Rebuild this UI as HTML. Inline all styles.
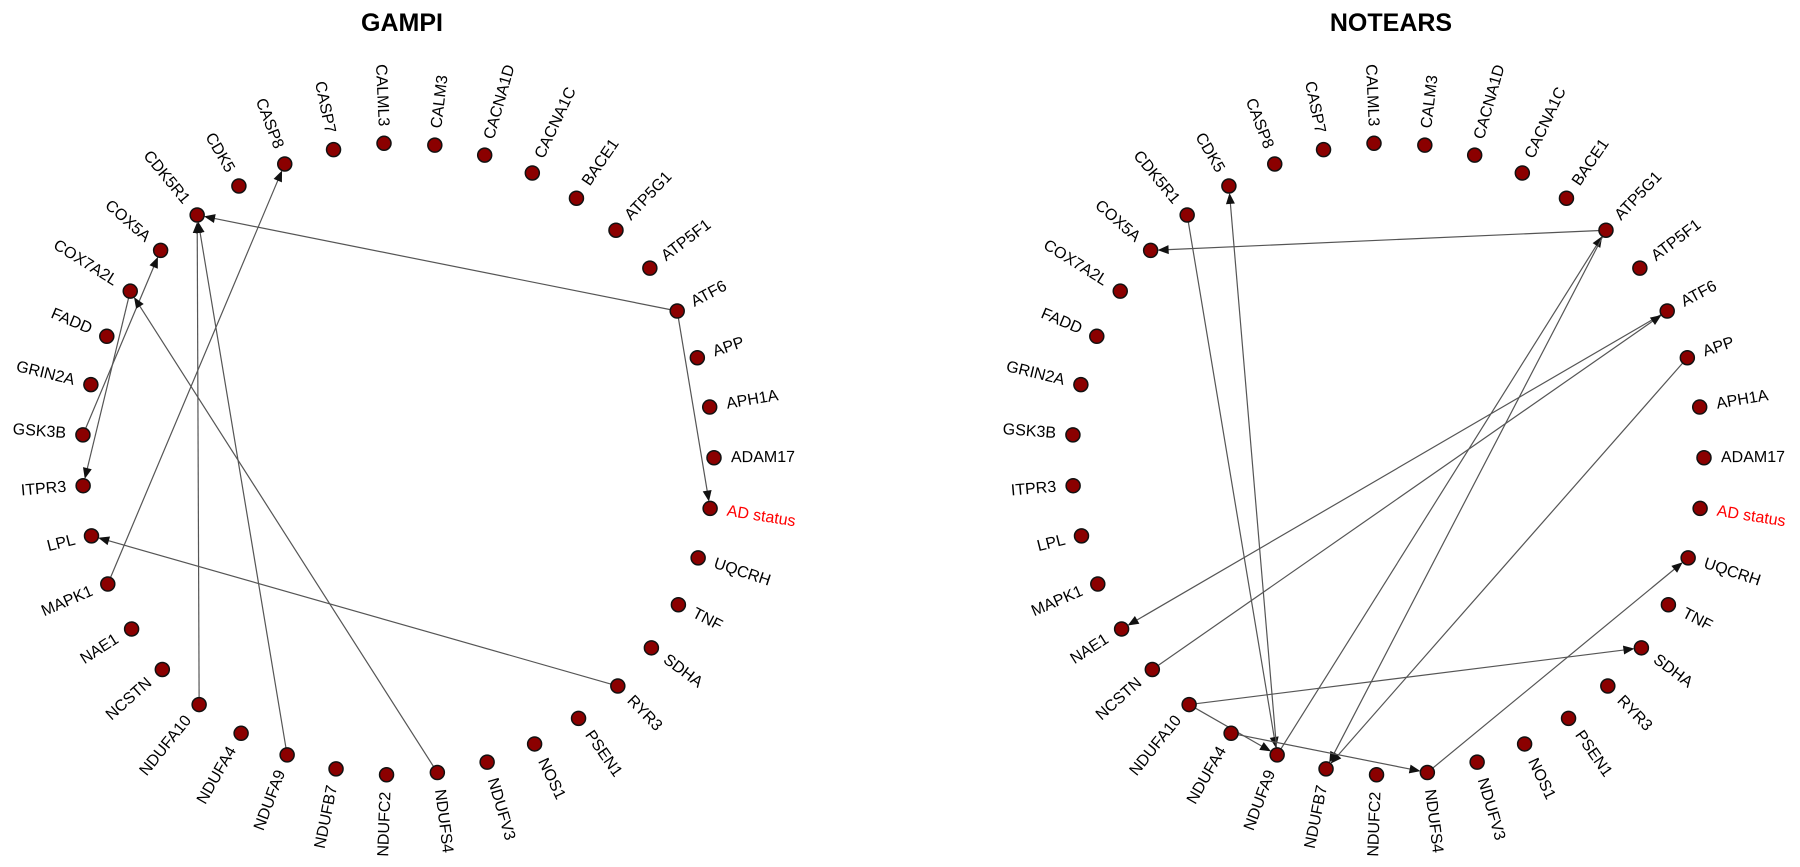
<!DOCTYPE html>
<html><head><meta charset="utf-8">
<style>
html,body{margin:0;padding:0;background:#fff;}
svg{display:block;font-family:"Liberation Sans",Arial,sans-serif;}
</style></head>
<body>
<svg id="chart" width="1800" height="867" viewBox="0 0 1800 867">
<text x="402" y="31" text-anchor="middle" font-size="25" font-weight="bold">GAMPI</text>
<text x="1391" y="31" text-anchor="middle" font-size="25" font-weight="bold">NOTEARS</text>
</svg>
<script>
const nodes = ["AD status","ADAM17","APH1A","APP","ATF6","ATP5F1","ATP5G1","BACE1","CACNA1C","CACNA1D","CALM3","CALML3","CASP7","CASP8","CDK5","CDK5R1","COX5A","COX7A2L","FADD","GRIN2A","GSK3B","ITPR3","LPL","MAPK1","NAE1","NCSTN","NDUFA10","NDUFA4","NDUFA9","NDUFB7","NDUFC2","NDUFS4","NDUFV3","NOS1","PSEN1","RYR3","SDHA","TNF","UQCRH"];
const gampiEdges = [["ATF6","CDK5R1"],["ATF6","AD status"],["NDUFA10","CDK5R1"],["NDUFA9","CDK5R1"],["MAPK1","CASP8"],["GSK3B","COX5A"],["COX7A2L","ITPR3"],["NDUFS4","COX7A2L"],["RYR3","LPL"]];
const notearsEdges = [["ATP5G1","COX5A"],["CDK5R1","NDUFA9"],["NDUFA9","CDK5"],["NDUFA9","ATP5G1"],["ATP5G1","NDUFB7"],["APP","NDUFB7"],["ATF6","NAE1"],["NCSTN","ATF6"],["NDUFA10","SDHA"],["NDUFA10","NDUFA9"],["NDUFA4","NDUFS4"],["NDUFS4","UQCRH"]];
const NS="http://www.w3.org/2000/svg";
const svg=document.getElementById('chart');
const R=316, CY=459, START=-9, NODE_R=7;
function angleOf(i){return (START+i*360/nodes.length)*Math.PI/180;}
function pos(cx,i){const a=angleOf(i);return [cx+R*Math.cos(a),CY-R*Math.sin(a)];}
function draw(cx,edges,prefix){
  const g=document.createElementNS(NS,'g');
  
  
  svg.appendChild(g);
  edges.forEach(e=>{
    const [x1,y1]=pos(cx,nodes.indexOf(e[0]));
    const [x2,y2]=pos(cx,nodes.indexOf(e[1]));
    const dx=x2-x1,dy=y2-y1,L=Math.hypot(dx,dy),ux=dx/L,uy=dy/L;
    const tx=x2-ux*NODE_R,ty=y2-uy*NODE_R;
    const line=document.createElementNS(NS,'line');
    
    
    line.setAttribute('x1',x1);line.setAttribute('y1',y1);
    line.setAttribute('x2',tx-ux*8);line.setAttribute('y2',ty-uy*8);
    line.setAttribute('stroke','#555');line.setAttribute('stroke-width','1.2');
    g.appendChild(line);
    const bx=tx-ux*11,by=ty-uy*11,px=-uy*4.5,py=ux*4.5;
    const arr=document.createElementNS(NS,'polygon');
    
    
    arr.setAttribute('points',`${tx},${ty} ${bx+px},${by+py} ${bx-px},${by-py}`);
    arr.setAttribute('fill','#111');
    g.appendChild(arr);
  });
  nodes.forEach((n,i)=>{
    const [x,y]=pos(cx,i);
    const c=document.createElementNS(NS,'circle');
    
    
    c.setAttribute('cx',x);c.setAttribute('cy',y);c.setAttribute('r',NODE_R);
    c.setAttribute('fill','#8b0000');c.setAttribute('stroke','#111');c.setAttribute('stroke-width','1.5');
    g.appendChild(c);
    const a=angleOf(i),deg=a*180/Math.PI;
    const lx=cx+(R+17)*Math.cos(a),ly=CY-(R+17)*Math.sin(a);
    const t=document.createElementNS(NS,'text');
    
    
    t.setAttribute('x',lx);t.setAttribute('y',ly);
    t.setAttribute('font-size','16');
    t.setAttribute('dominant-baseline','central');
    if(Math.cos(a)>=0){
      t.setAttribute('text-anchor','start');
      t.setAttribute('transform',`rotate(${-deg} ${lx} ${ly})`);
    }else{
      t.setAttribute('text-anchor','end');
      t.setAttribute('transform',`rotate(${180-deg} ${lx} ${ly})`);
    }
    t.setAttribute('fill',n==='AD status'?'#ff0000':'#000');
    t.textContent=n;
    g.appendChild(t);
  });
}
draw(398,gampiEdges,'gampi');
draw(1388,notearsEdges,'notears');
</script>
</body></html>
